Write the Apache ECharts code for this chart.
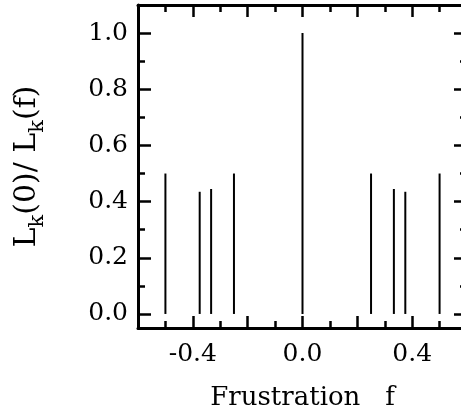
<!DOCTYPE html>
<html>
<head>
<meta charset="utf-8">
<script src="https://cdn.jsdelivr.net/npm/echarts@6/dist/echarts.min.js"></script>
<style>
html,body{margin:0;padding:0;background:#fff;overflow:hidden;width:461px;height:416px;}
#chart{width:470px;height:416px;}
</style>
</head>
<body>
<div id="chart"></div>
<script>
// Frustration values of the spikes
var frustration = [-0.5, -0.375, -0.3333, -0.25, 0.0, 0.25, 0.3333, 0.375, 0.5];
// L_k(0)/L_k(f) heights
var ratio = [0.50, 0.435, 0.445, 0.50, 1.00, 0.50, 0.445, 0.435, 0.50];
// tick labels
var xLabelValues = [-0.4, 0.0, 0.4];
var yMajorTicks = [0.0, 0.2, 0.4, 0.6, 0.8, 1.0];
var yMinorTicks = [0.1, 0.3, 0.5, 0.7, 0.9];

var FONT = 'DejaVu Serif';
var chart = echarts.init(document.getElementById('chart'), null, {renderer: 'canvas'});

function yAx(pos, custom, len, showLine, labels, name) {
  var ax = {
    type: 'value', position: pos, min: -0.05, max: 1.1,
    axisLine: {show: showLine, onZero: false, lineStyle: {color: '#000', width: 3}},
    axisTick: {show: true, inside: true, length: len, customValues: custom, lineStyle: {color: '#000', width: 2.5}},
    axisLabel: {show: labels, customValues: custom, margin: 10, color: '#000', fontFamily: FONT, fontSize: 25,
      formatter: function (v) { return v.toFixed(1); }},
    splitLine: {show: false}
  };
  if (name) {
    ax.name = '{n|L}{s|k}{n|(0)/ L}{s|k}{n|(f)}';
    ax.nameLocation = 'middle';
    ax.nameRotate = 90;
    ax.nameGap = 90;
    ax.nameTextStyle = {
      color: '#000', fontFamily: FONT, fontSize: 30,
      rich: {
        n: {fontFamily: FONT, fontSize: 30, color: '#000', lineHeight: 42, verticalAlign: 'middle'},
        s: {fontFamily: FONT, fontSize: 21, color: '#000', lineHeight: 18, verticalAlign: 'bottom'}
      }
    };
  }
  return ax;
}

function xAx(pos, labels, name) {
  var ax = {
    type: 'value', position: pos, min: -0.6, max: 0.6, interval: 0.2,
    axisLine: {show: true, onZero: false, lineStyle: {color: '#000', width: 3}},
    axisTick: {show: true, inside: true, length: 12, lineStyle: {color: '#000', width: 2.5}},
    minorTick: {show: true, splitNumber: 2, length: 7, lineStyle: {color: '#000', width: 2.5}},
    axisLabel: {show: labels, margin: 14, color: '#000', fontFamily: FONT, fontSize: 25,
      formatter: function (v) {
        for (var i = 0; i < xLabelValues.length; i++) {
          if (Math.abs(v - xLabelValues[i]) < 1e-6) return xLabelValues[i].toFixed(1);
        }
        return '';
      }},
    splitLine: {show: false},
    minorSplitLine: {show: false}
  };
  if (name) {
    ax.name = 'Frustration   f';
    ax.nameLocation = 'middle';
    ax.nameGap = 57;
    ax.nameTextStyle = {color: '#000', fontFamily: FONT, fontSize: 26};
  }
  return ax;
}

chart.setOption({
  animation: false,
  backgroundColor: '#fff',
  grid: {left: 138, right: 3, top: 5, bottom: 87},
  xAxis: [xAx('bottom', true, true), xAx('top', false, false)],
  yAxis: [
    yAx('left', yMajorTicks, 13, true, true, true),
    yAx('left', yMinorTicks, 7, false, false, false),
    yAx('right', yMajorTicks, 13, true, false, false),
    yAx('right', yMinorTicks, 7, false, false, false)
  ],
  series: [{
    type: 'custom',
    xAxisIndex: 0, yAxisIndex: 0,
    data: frustration.map(function (f, i) { return [f, ratio[i]]; }),
    renderItem: function (params, api) {
      var p0 = api.coord([api.value(0), 0]);
      var p1 = api.coord([api.value(0), api.value(1)]);
      return {type: 'line', shape: {x1: p0[0], y1: p0[1], x2: p1[0], y2: p1[1]},
        style: {stroke: '#000', lineWidth: 2}};
    }
  }]
});
</script>
</body>
</html>
